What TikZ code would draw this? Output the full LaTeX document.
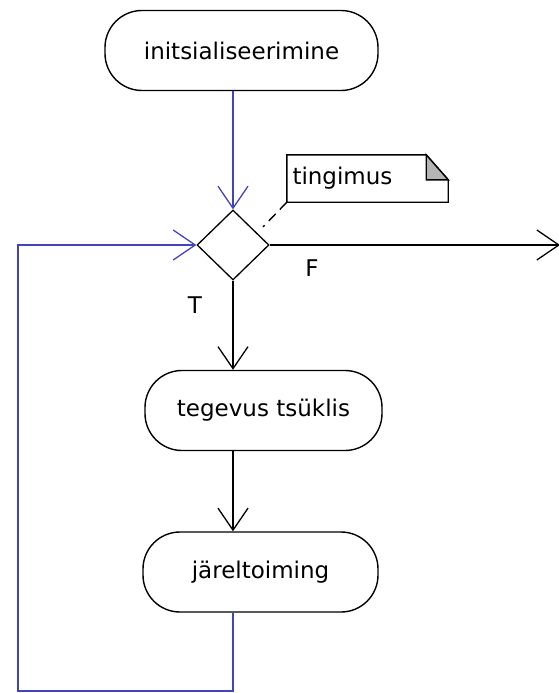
\documentclass[tikz,border=0pt]{standalone}
\usepackage{fontspec}
\setmainfont{DejaVu Sans}
\usetikzlibrary{shapes.geometric,arrows.meta}
\definecolor{loopblue}{HTML}{4343BE}
\definecolor{foldgray}{HTML}{B4B4B4}
\tikzset{
   action/.style={draw, line width=1.4pt, rounded corners=37pt, minimum height=80pt, inner sep=0pt},
   cond/.style={draw, line width=1.3pt, diamond, minimum width=72pt, minimum height=70pt, inner sep=0pt},
   flow/.style={draw, line width=1.3pt, -{Straight Barb[length=22pt,width=30pt]}},
   notetxt/.style={text width=150pt, inner xsep=5.5pt, minimum height=47pt, align=left},
}

\begin{document}
\begin{tikzpicture}[x=1pt, y=-1pt, font=\fontsize{23}{27}\selectfont]
   \useasboundingbox (0,0) rectangle (558,693);
   \node[action, minimum width=273pt] (init) at (241.5,50.5) {initsialiseerimine};
   \node[cond] (dec) at (233,245) {};
   \node[action, minimum width=237pt] (body) at (263.5,410.5) {tegevus tsüklis};
   \node[action, minimum width=235pt] (post) at (260.5,572) {järeltoiming};
   \node[notetxt] (note) at (367.5,178.5) {tingimus};
   \coordinate (exit) at (560,245);
   \coordinate (notetip) at (263,227);
   \coordinate (loopcorner) at (18,691);
   % note with folded corner
   \draw[line width=1.4pt] (note.south west) -- (note.north west) -- ([xshift=-22pt]note.north east)
      -- ([yshift=-25pt]note.north east) -- (note.south east) -- cycle;
   \filldraw[line width=1.4pt, fill=foldgray] ([xshift=-22pt]note.north east) -- ([xshift=-22pt,yshift=-25pt]note.north east)
      -- ([yshift=-25pt]note.north east) -- cycle;
   \draw[line width=1.4pt, dash pattern=on 10pt off 6pt] (note.south west) -- (notetip);
   % connectors
   \draw[flow, loopblue] (dec.north |- init.south) -- (dec.north);
   \draw[flow] (dec.east) -- (exit);
   \draw[flow] (dec.south) -- (dec.south |- body.north);
   \draw[flow] (dec.south |- body.south) -- (dec.south |- post.north);
   \draw[flow, loopblue] (dec.south |- post.south) |- (loopcorner) |- (dec.west);
   \node (f) at (312,268) {F};
   \node (t) at (195,305) {T};
\end{tikzpicture}
\end{document}
